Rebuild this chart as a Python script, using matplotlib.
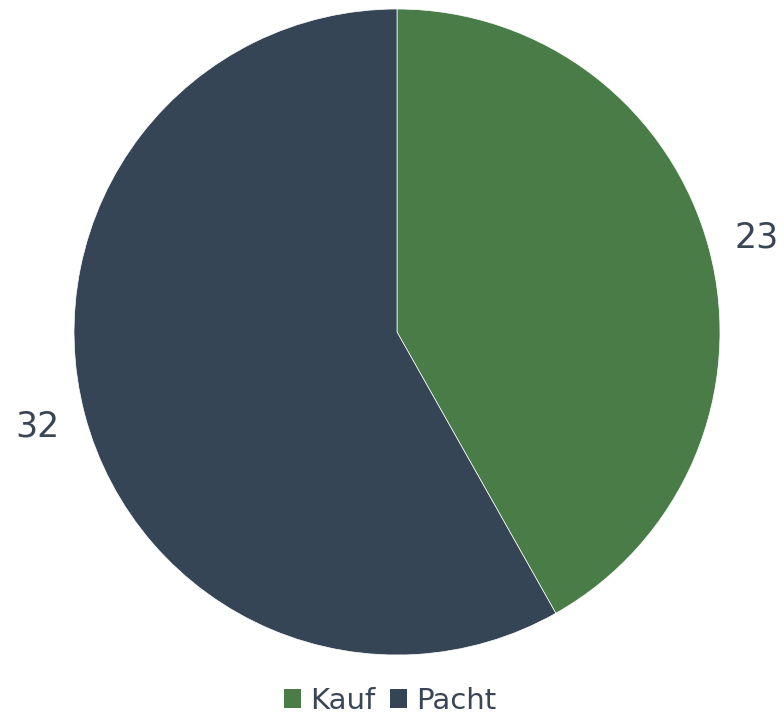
import matplotlib.pyplot as plt
from matplotlib.patches import Patch

labels = ["Kauf", "Pacht"]
values = [23, 32]
colors = ["#4a7c47", "#354555"]
text_color = "#3a4656"

plt.rcParams["font.family"] = ["DejaVu Sans"]

fig = plt.figure(figsize=(7.84, 7.16), dpi=100)
# pie centre at (397, 332) px, radius 323 px
ax = fig.add_axes([74 / 784, 61 / 716, 646 / 784, 646 / 716])

wedges, _, autotexts = ax.pie(
    values, colors=colors, startangle=90, counterclock=False,
    autopct=lambda p: f"{round(p * sum(values) / 100):d}",
    pctdistance=1.15, radius=1,
    wedgeprops=dict(edgecolor="white", linewidth=0.5),
)
for t in autotexts:
    t.set_fontsize(25)
    t.set_color(text_color)
ax.set_xlim(-1, 1)
ax.set_ylim(-1, 1)
ax.set_aspect("equal")

handles = [Patch(facecolor=c, label=l) for c, l in zip(colors, labels)]
fig.legend(handles=handles, loc="center", bbox_to_anchor=(390 / 784, 1 - 701 / 716),
           ncol=2, frameon=False, fontsize=21, labelcolor=text_color,
           handlelength=0.6, handleheight=0.6, handletextpad=0.3, columnspacing=0.5)

fig.savefig("out.png", dpi=100)
